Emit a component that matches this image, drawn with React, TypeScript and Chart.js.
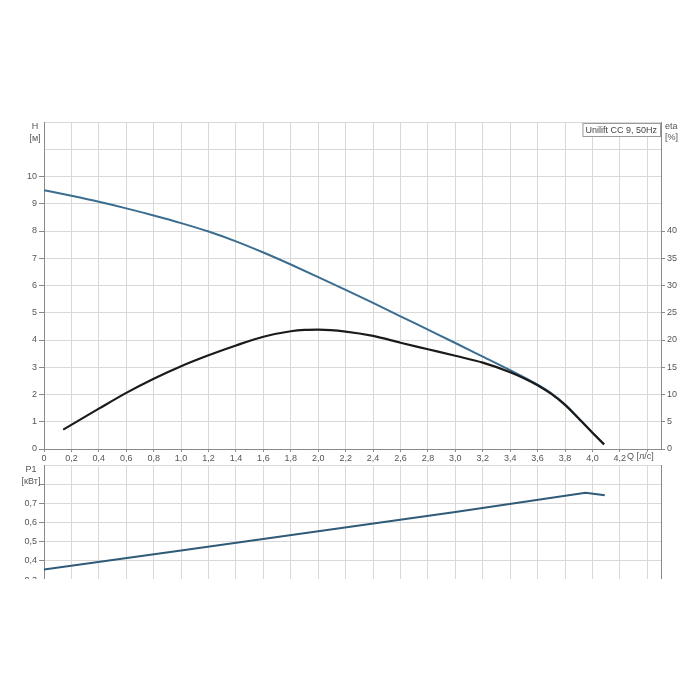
import React, { useEffect, useRef } from 'react';
import { Chart, registerables } from 'chart.js';

Chart.register(...registerables);

// ---------- data ----------
const Q_TICKS = [0, 0.2, 0.4, 0.6, 0.8, 1.0, 1.2, 1.4, 1.6, 1.8, 2.0, 2.2, 2.4, 2.6, 2.8, 3.0, 3.2, 3.4, 3.6, 3.8, 4.0, 4.2, 4.4];
const H_TICKS = [0, 1, 2, 3, 4, 5, 6, 7, 8, 9, 10, 11, 12];
const ETA_TICKS = [0, 5, 10, 15, 20, 25, 30, 35, 40, 45, 50, 55, 60];
const P_TICKS = [0.2, 0.3, 0.4, 0.5, 0.6, 0.7, 0.8, 0.9];

const Q_H = [0, 0.2, 0.4, 0.6, 0.8, 1.0, 1.2, 1.4, 1.6, 1.8, 2.0, 2.2, 2.4, 2.6, 2.8, 3.0, 3.2, 3.4, 3.6, 3.7, 3.8, 3.9, 4.0, 4.085];
const H_VALUES = [9.5, 9.29, 9.07, 8.83, 8.57, 8.29, 7.98, 7.62, 7.21, 6.77, 6.31, 5.84, 5.36, 4.87, 4.38, 3.89, 3.39, 2.89, 2.36, 2.04, 1.63, 1.12, 0.6, 0.17];

const Q_ETA = [0.14, 0.4, 0.6, 0.8, 1.0, 1.2, 1.4, 1.6, 1.8, 1.9, 2.0, 2.2, 2.4, 2.6, 2.8, 3.0, 3.2, 3.4, 3.5, 3.6, 3.7, 3.8, 3.9, 4.0, 4.085];
const ETA_VALUES = [3.55, 7.4, 10.3, 12.9, 15.2, 17.2, 19.0, 20.6, 21.6, 21.85, 21.9, 21.55, 20.75, 19.5, 18.3, 17.1, 15.85, 14.1, 13.0, 11.7, 10.1, 8.1, 5.6, 3.0, 0.85];

const Q_P = [0, 1.0, 2.0, 3.0, 3.95, 4.09];
const P_VALUES = [0.356, 0.455, 0.555, 0.655, 0.755, 0.742];

// ---------- styles ----------
const FONT_FAMILY = "'Liberation Sans', Arial, sans-serif";
const GRID = '#d9d9d9';
const AXIS = '#8a8a8a';
const LABEL = '#555555';
const BLUE = '#3a6d90';
const P_BLUE = '#2f5a78';
const BLACK = '#1b1b1b';

const comma = (v: number) => (v === 0 ? '0' : v.toFixed(1).replace('.', ','));
const setTicks = (vals: number[]) => (scale: any) => {
  scale.ticks = vals.map((v) => ({ value: v }));
};
const tickFont = { family: FONT_FAMILY, size: 9 };

const topLabels = {
  id: 'topLabels',
  afterDraw(chart: any) {
    const ctx = chart.ctx;
    const a = chart.chartArea;
    ctx.save();
    ctx.font = `9px ${FONT_FAMILY}`;
    ctx.fillStyle = LABEL;
    ctx.textBaseline = 'middle';
    ctx.textAlign = 'center';
    ctx.fillText('H', 35, a.top + 5);
    ctx.fillText('[м]', 35, a.top + 17);
    ctx.textAlign = 'left';
    ctx.fillText('eta', a.right + 4, a.top + 5);
    ctx.fillText('[%]', a.right + 4, a.top + 16);
    ctx.fillText('Q [л/с]', a.right - 34, a.bottom + 8);
    // legend box
    const text = 'Unilift CC 9, 50Hz';
    const w = ctx.measureText(text).width + 6;
    const h = 13;
    const x = a.right - w - 1;
    const y = a.top + 1;
    ctx.fillStyle = '#ffffff';
    ctx.fillRect(x, y, w, h);
    ctx.strokeStyle = '#9a9a9a';
    ctx.lineWidth = 1;
    ctx.strokeRect(x + 0.5, y + 0.5, w, h);
    ctx.fillStyle = '#444444';
    ctx.fillText(text, x + 3, y + h / 2 + 1);
    ctx.restore();
  },
};

const bottomLabels = {
  id: 'bottomLabels',
  afterDraw(chart: any) {
    const ctx = chart.ctx;
    const a = chart.chartArea;
    ctx.save();
    ctx.font = `9px ${FONT_FAMILY}`;
    ctx.fillStyle = LABEL;
    ctx.textBaseline = 'middle';
    ctx.textAlign = 'center';
    ctx.fillText('P1', 31, a.top + 5);
    ctx.fillText('[кВт]', 31, a.top + 17);
    ctx.restore();
  },
};

function TopChart() {
  const ref = useRef<HTMLCanvasElement>(null);
  useEffect(() => {
    if (!ref.current) return;
    const chart = new Chart(ref.current, {
      type: 'line',
      data: {
        datasets: [
          {
            label: 'H',
            data: Q_H.map((q, i) => ({ x: q, y: H_VALUES[i] })),
            yAxisID: 'y',
            borderColor: BLUE,
            borderWidth: 2,
            pointRadius: 0,
            cubicInterpolationMode: 'monotone',
            order: 1,
          },
          {
            label: 'eta',
            data: Q_ETA.map((q, i) => ({ x: q, y: ETA_VALUES[i] })),
            yAxisID: 'y2',
            borderColor: BLACK,
            borderWidth: 2.2,
            pointRadius: 0,
            cubicInterpolationMode: 'monotone',
            order: 0,
          },
        ],
      },
      options: {
        responsive: false,
        animation: false,
        devicePixelRatio: 1,
        layout: { padding: { top: 122, left: 0, right: 0, bottom: 0 } },
        plugins: { legend: { display: false }, tooltip: { enabled: false } },
        scales: {
          x: {
            type: 'linear',
            min: 0,
            max: 4.5,
            afterBuildTicks: setTicks(Q_TICKS),
            afterFit: (s: any) => { s.height = 21; },
            grid: { color: GRID, tickColor: AXIS, tickLength: 3 },
            border: { color: AXIS },
            ticks: {
              font: tickFont,
              color: LABEL,
              padding: 1,
              maxRotation: 0,
              autoSkip: false,
              callback: (v: any) => (Number(v) > 4.3 ? '' : comma(Number(v))),
            },
          },
          y: {
            type: 'linear',
            position: 'left',
            min: 0,
            max: 12,
            afterBuildTicks: setTicks(H_TICKS),
            afterFit: (s: any) => { s.width = 44; },
            grid: {
              color: GRID,
              tickLength: 5,
              tickColor: (c: any) => (c.tick && c.tick.value <= 10 ? AXIS : 'rgba(0,0,0,0)'),
            },
            border: { color: AXIS },
            ticks: {
              font: tickFont,
              color: LABEL,
              padding: 2,
              autoSkip: false,
              callback: (v: any) => (Number(v) <= 10 ? String(v) : ''),
            },
          },
          y2: {
            type: 'linear',
            position: 'right',
            min: 0,
            max: 60,
            afterBuildTicks: setTicks(ETA_TICKS),
            afterFit: (s: any) => { s.width = 39; },
            grid: {
              drawOnChartArea: false,
              tickLength: 4,
              tickColor: (c: any) => (c.tick && c.tick.value <= 40 ? AXIS : 'rgba(0,0,0,0)'),
            },
            border: { color: AXIS },
            ticks: {
              font: tickFont,
              color: LABEL,
              padding: 2,
              autoSkip: false,
              callback: (v: any) => (Number(v) <= 40 ? String(v) : ''),
            },
          },
        },
      } as any,
      plugins: [topLabels],
    });
    return () => chart.destroy();
  }, []);
  return <canvas ref={ref} width={700} height={470} style={{ width: 700, height: 470, display: 'block' }} />;
}

function BottomChart() {
  const ref = useRef<HTMLCanvasElement>(null);
  useEffect(() => {
    if (!ref.current) return;
    const chart = new Chart(ref.current, {
      type: 'line',
      data: {
        datasets: [
          {
            label: 'P1',
            data: Q_P.map((q, i) => ({ x: q, y: P_VALUES[i] })),
            yAxisID: 'y',
            borderColor: P_BLUE,
            borderWidth: 2,
            pointRadius: 0,
            tension: 0,
          },
        ],
      },
      options: {
        responsive: false,
        animation: false,
        devicePixelRatio: 1,
        layout: { padding: { top: 10, left: 0, right: 0, bottom: 0 } },
        plugins: { legend: { display: false }, tooltip: { enabled: false } },
        scales: {
          x: {
            type: 'linear',
            min: 0,
            max: 4.5,
            afterBuildTicks: setTicks(Q_TICKS),
            afterFit: (s: any) => { s.height = 35.6; },
            grid: { color: GRID, tickColor: AXIS, tickLength: 3 },
            border: { color: AXIS },
            ticks: { font: tickFont, color: LABEL, padding: 1, maxRotation: 0, autoSkip: false, callback: (v: any) => (Number(v) > 4.3 ? '' : comma(Number(v))) },
          },
          y: {
            type: 'linear',
            position: 'left',
            min: 0.2,
            max: 0.9,
            afterBuildTicks: setTicks(P_TICKS),
            afterFit: (s: any) => { s.width = 44; },
            grid: {
              color: GRID,
              tickLength: 5,
              tickColor: (c: any) => (c.tick && c.tick.value <= 0.85 ? AXIS : 'rgba(0,0,0,0)'),
            },
            border: { color: AXIS },
            ticks: {
              font: tickFont,
              color: LABEL,
              padding: 2,
              autoSkip: false,
              callback: (v: any) => (Number(v) <= 0.75 ? comma(Number(v)) : ''),
            },
          },
          y2: {
            type: 'linear',
            position: 'right',
            min: 0,
            max: 1,
            afterFit: (s: any) => { s.width = 39; },
            grid: { drawOnChartArea: false, drawTicks: false },
            border: { color: AXIS },
            ticks: { display: false },
          },
        },
      } as any,
      plugins: [bottomLabels],
    });
    return () => chart.destroy();
  }, []);
  return <canvas ref={ref} width={700} height={180} style={{ width: 700, height: 180, display: 'block' }} />;
}

export default function App() {
  return (
    <div style={{ position: 'absolute', left: 0, top: 0, width: 700, height: 700, background: '#ffffff', overflow: 'hidden' }}>
      <div style={{ position: 'absolute', left: 0, top: 0, width: 700, height: 470 }}>
        <TopChart />
      </div>
      <div style={{ position: 'absolute', left: 0, top: 455, width: 700, height: 124, overflow: 'hidden' }}>
        <BottomChart />
      </div>
    </div>
  );
}
